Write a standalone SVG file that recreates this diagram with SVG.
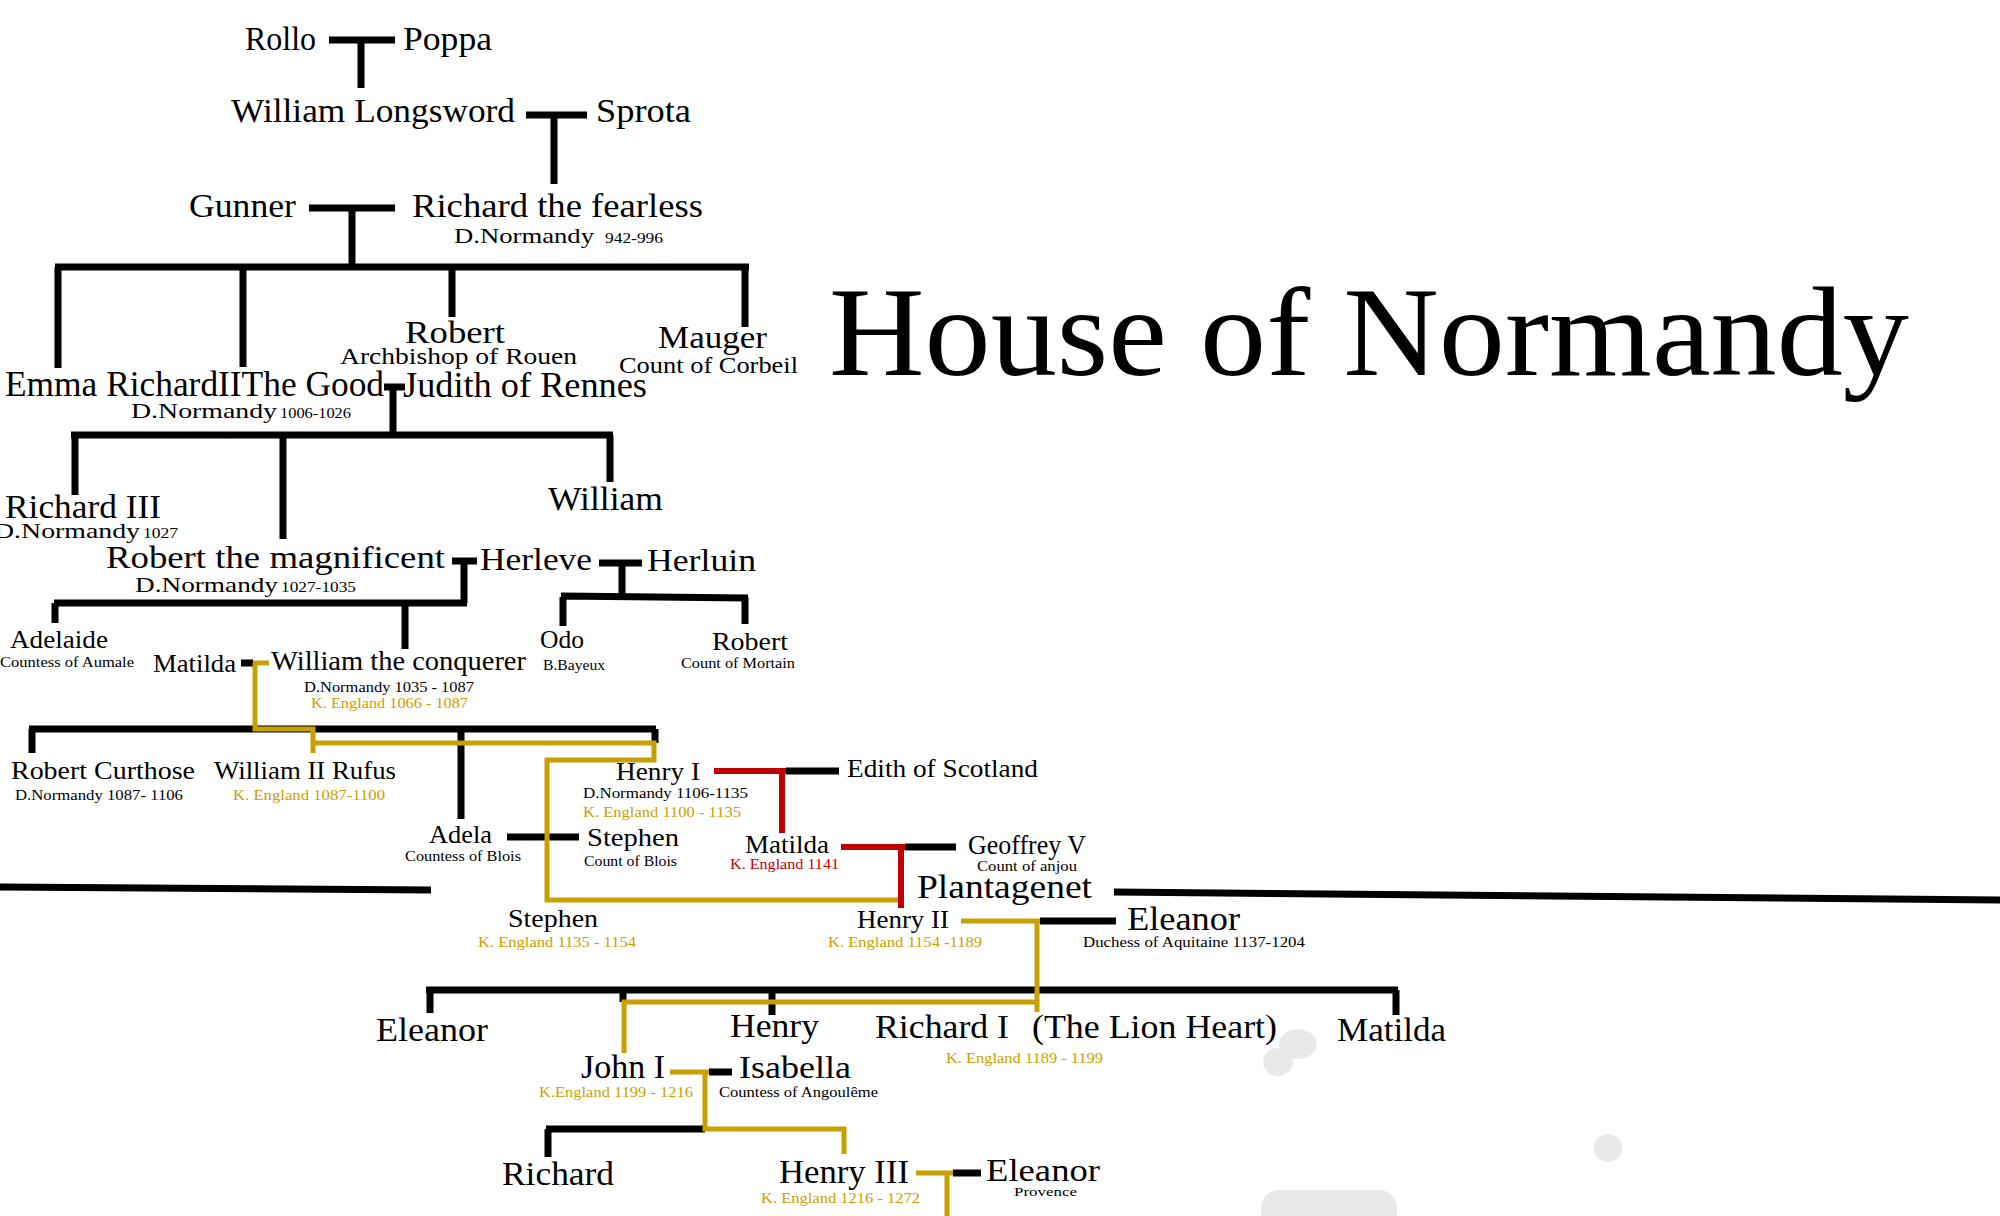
<svg xmlns="http://www.w3.org/2000/svg" width="2000" height="1216" viewBox="0 0 2000 1216">
<style>
text{font-family:"Liberation Serif","DejaVu Serif",serif;fill:#000}
.g{fill:#c8a000}
.r{fill:#c00000}
.k{stroke:#000;stroke-width:7;fill:none}
.y{stroke:#c8a000;stroke-width:5;fill:none}
.rd{stroke:#c00000;stroke-width:6;fill:none}
.blob{fill:#e9e9e9}
</style>
<rect width="2000" height="1216" fill="#fff"/>
<g id="blobs">
<ellipse class="blob" cx="1298" cy="1044" rx="19" ry="15"/>
<ellipse class="blob" cx="1278" cy="1062" rx="15" ry="14"/>
<ellipse class="blob" cx="1608" cy="1148" rx="14" ry="14"/>
<rect class="blob" x="1261" y="1190" width="136" height="40" rx="18"/>
</g>
<g id="connectors">
<path class="k" d="M329,40H395M361,40V88"/>
<path class="k" d="M526,115H587M554,115V184"/>
<path class="k" d="M309,208H395M352,208V267"/>
<path class="k" d="M55,267H749M58,267V368M243,267V367M452,267V317M745,267V327"/>
<path class="k" d="M384,387H405M393,387V435"/>
<path class="k" d="M71,435H613M75,435V495M283,435V539M610,435V482"/>
<path class="k" d="M452,561H477M464,561V603M54,603H467M55,603V623M405,603V649"/>
<path class="k" d="M599,563H642M622,563V597M561,596L748,598M563,597V626M745,597V624"/>
<path class="k" d="M241,663H253"/>
<path class="k" d="M29,729H656M32,729V753M461,729V819M655,729V743"/>
<path class="k" d="M507,837H579"/>
<path class="k" d="M786,771H839"/>
<path class="k" d="M905,847H956"/>
<path class="k" d="M1040,921H1116"/>
<path class="k" d="M426,990H1398M430,990V1013M623,990V1002M772,990V1015M1396,990V1015"/>
<path class="k" d="M709,1072H732"/>
<path class="k" d="M546,1129H705M548,1129V1157"/>
<path class="k" d="M953,1173H981"/>
<path class="k" d="M0,887L431,890"/>
<path class="k" d="M1114,892L2000,900"/>
<path class="y" d="M253,663H269M255,663V729H313V753M313,743H654V760H547V900H901"/>
<path class="y" d="M961,921H1040M1037,921V1012M1037,1002H624V1053"/>
<path class="y" d="M670,1072H709M705,1072V1129H844V1154"/>
<path class="y" d="M916,1173H953M947,1173V1216"/>
<path class="rd" d="M714,771H786M782,771V833"/>
<path class="rd" d="M841,847H905M901,847V908"/>
</g>
<g id="title"><text x="829" y="375" font-size="128" textLength="1080" lengthAdjust="spacingAndGlyphs">House of Normandy</text></g>
<g id="rollo"><text x="245" y="50" font-size="33" textLength="71" lengthAdjust="spacingAndGlyphs">Rollo</text></g>
<g id="poppa"><text x="403" y="50" font-size="33" textLength="89" lengthAdjust="spacingAndGlyphs">Poppa</text></g>
<g id="william-longsword"><text x="231" y="122" font-size="33" textLength="284" lengthAdjust="spacingAndGlyphs">William Longsword</text></g>
<g id="sprota"><text x="596" y="122" font-size="33" textLength="95" lengthAdjust="spacingAndGlyphs">Sprota</text></g>
<g id="gunner"><text x="189" y="217" font-size="33" textLength="107" lengthAdjust="spacingAndGlyphs">Gunner</text></g>
<g id="richard-fearless"><text x="412" y="217" font-size="33" textLength="291" lengthAdjust="spacingAndGlyphs">Richard the fearless</text>
<text x="454" y="243" font-size="22" textLength="140" lengthAdjust="spacingAndGlyphs">D.Normandy</text>
<text x="605" y="243" font-size="15" textLength="58" lengthAdjust="spacingAndGlyphs">942-996</text></g>
<g id="robert-archbishop"><text x="405" y="343" font-size="32" textLength="100" lengthAdjust="spacingAndGlyphs">Robert</text>
<text x="340" y="364" font-size="24" textLength="237" lengthAdjust="spacingAndGlyphs">Archbishop of Rouen</text></g>
<g id="mauger"><text x="658" y="348" font-size="32" textLength="109" lengthAdjust="spacingAndGlyphs">Mauger</text>
<text x="619" y="373" font-size="24" textLength="179" lengthAdjust="spacingAndGlyphs">Count of Corbeil</text></g>
<g id="emma-richard2"><text x="5" y="396" font-size="36" textLength="379" lengthAdjust="spacingAndGlyphs">Emma RichardIIThe Good</text>
<text x="131" y="418" font-size="22" textLength="146" lengthAdjust="spacingAndGlyphs">D.Normandy</text>
<text x="280" y="418" font-size="15" textLength="71" lengthAdjust="spacingAndGlyphs">1006-1026</text></g>
<g id="judith"><text x="403" y="397" font-size="36" textLength="244" lengthAdjust="spacingAndGlyphs">Judith of Rennes</text></g>
<g id="richard3"><text x="5" y="518" font-size="33" textLength="156" lengthAdjust="spacingAndGlyphs">Richard III</text>
<text x="-6" y="538" font-size="22" textLength="146" lengthAdjust="spacingAndGlyphs">D.Normandy</text>
<text x="143" y="538" font-size="15" textLength="35" lengthAdjust="spacingAndGlyphs">1027</text></g>
<g id="william"><text x="548" y="510" font-size="33" textLength="115" lengthAdjust="spacingAndGlyphs">William</text></g>
<g id="robert-magnificent"><text x="106" y="568" font-size="32" textLength="339" lengthAdjust="spacingAndGlyphs">Robert the magnificent</text>
<text x="135" y="592" font-size="22" textLength="143" lengthAdjust="spacingAndGlyphs">D.Normandy</text>
<text x="281" y="592" font-size="15" textLength="75" lengthAdjust="spacingAndGlyphs">1027-1035</text></g>
<g id="herleve"><text x="480" y="570" font-size="32" textLength="112" lengthAdjust="spacingAndGlyphs">Herleve</text></g>
<g id="herluin"><text x="647" y="571" font-size="32" textLength="109" lengthAdjust="spacingAndGlyphs">Herluin</text></g>
<g id="adelaide"><text x="10" y="648" font-size="25" textLength="98" lengthAdjust="spacingAndGlyphs">Adelaide</text>
<text x="0" y="667" font-size="15" textLength="134" lengthAdjust="spacingAndGlyphs">Countess of Aumale</text></g>
<g id="odo"><text x="540" y="648" font-size="25" textLength="44" lengthAdjust="spacingAndGlyphs">Odo</text>
<text x="543" y="670" font-size="15" textLength="62" lengthAdjust="spacingAndGlyphs">B.Bayeux</text></g>
<g id="robert-mortain"><text x="712" y="650" font-size="25" textLength="76" lengthAdjust="spacingAndGlyphs">Robert</text>
<text x="681" y="668" font-size="15" textLength="114" lengthAdjust="spacingAndGlyphs">Count of Mortain</text></g>
<g id="matilda-flanders"><text x="153" y="672" font-size="25" textLength="83" lengthAdjust="spacingAndGlyphs">Matilda</text></g>
<g id="william-conquerer"><text x="271" y="670" font-size="27" textLength="255" lengthAdjust="spacingAndGlyphs">William the conquerer</text>
<text x="304" y="692" font-size="15" textLength="170" lengthAdjust="spacingAndGlyphs">D.Normandy 1035 - 1087</text>
<text class="g" x="311" y="708" font-size="15" textLength="157" lengthAdjust="spacingAndGlyphs">K. England 1066 - 1087</text></g>
<g id="robert-curthose"><text x="11" y="779" font-size="26" textLength="184" lengthAdjust="spacingAndGlyphs">Robert Curthose</text>
<text x="15" y="800" font-size="15" textLength="168" lengthAdjust="spacingAndGlyphs">D.Normandy 1087- 1106</text></g>
<g id="william-rufus"><text x="214" y="779" font-size="26" textLength="182" lengthAdjust="spacingAndGlyphs">William II Rufus</text>
<text class="g" x="233" y="800" font-size="15" textLength="152" lengthAdjust="spacingAndGlyphs">K. England 1087-1100</text></g>
<g id="henry1"><text x="616" y="780" font-size="26" textLength="84" lengthAdjust="spacingAndGlyphs">Henry I</text>
<text x="583" y="798" font-size="15" textLength="165" lengthAdjust="spacingAndGlyphs">D.Normandy 1106-1135</text>
<text class="g" x="583" y="817" font-size="15" textLength="158" lengthAdjust="spacingAndGlyphs">K. England 1100 - 1135</text></g>
<g id="edith"><text x="847" y="777" font-size="26" textLength="191" lengthAdjust="spacingAndGlyphs">Edith of Scotland</text></g>
<g id="adela"><text x="429" y="843" font-size="26" textLength="63" lengthAdjust="spacingAndGlyphs">Adela</text>
<text x="405" y="861" font-size="15" textLength="116" lengthAdjust="spacingAndGlyphs">Countess of Blois</text></g>
<g id="stephen-count"><text x="587" y="846" font-size="26" textLength="92" lengthAdjust="spacingAndGlyphs">Stephen</text>
<text x="584" y="866" font-size="15" textLength="93" lengthAdjust="spacingAndGlyphs">Count of Blois</text></g>
<g id="matilda-empress"><text x="745" y="853" font-size="26" textLength="84" lengthAdjust="spacingAndGlyphs">Matilda</text>
<text class="r" x="730" y="869" font-size="15" textLength="109" lengthAdjust="spacingAndGlyphs">K. England 1141</text></g>
<g id="geoffrey"><text x="968" y="854" font-size="27" textLength="118" lengthAdjust="spacingAndGlyphs">Geoffrey V</text>
<text x="977" y="871" font-size="14" textLength="100" lengthAdjust="spacingAndGlyphs">Count of anjou</text></g>
<g id="plantagenet"><text x="917" y="898" font-size="34" textLength="175" lengthAdjust="spacingAndGlyphs">Plantagenet</text></g>
<g id="stephen-king"><text x="508" y="927" font-size="26" textLength="90" lengthAdjust="spacingAndGlyphs">Stephen</text>
<text class="g" x="478" y="947" font-size="15" textLength="158" lengthAdjust="spacingAndGlyphs">K. England 1135 - 1154</text></g>
<g id="henry2"><text x="857" y="928" font-size="26" textLength="92" lengthAdjust="spacingAndGlyphs">Henry II</text>
<text class="g" x="828" y="947" font-size="15" textLength="154" lengthAdjust="spacingAndGlyphs">K. England 1154 -1189</text></g>
<g id="eleanor-aquitaine"><text x="1127" y="930" font-size="34" textLength="113" lengthAdjust="spacingAndGlyphs">Eleanor</text>
<text x="1083" y="947" font-size="15" textLength="222" lengthAdjust="spacingAndGlyphs">Duchess of Aquitaine 1137-1204</text></g>
<g id="eleanor-daughter"><text x="376" y="1041" font-size="33" textLength="112" lengthAdjust="spacingAndGlyphs">Eleanor</text></g>
<g id="henry-young"><text x="730" y="1037" font-size="33" textLength="89" lengthAdjust="spacingAndGlyphs">Henry</text></g>
<g id="richard1"><text x="875" y="1038" font-size="33" textLength="134" lengthAdjust="spacingAndGlyphs">Richard I</text>
<text x="1032" y="1038" font-size="33" textLength="245" lengthAdjust="spacingAndGlyphs">(The Lion Heart)</text>
<text class="g" x="946" y="1063" font-size="15" textLength="157" lengthAdjust="spacingAndGlyphs">K. England 1189 - 1199</text></g>
<g id="matilda-daughter"><text x="1337" y="1041" font-size="33" textLength="109" lengthAdjust="spacingAndGlyphs">Matilda</text></g>
<g id="john1"><text x="581" y="1078" font-size="33" textLength="84" lengthAdjust="spacingAndGlyphs">John I</text>
<text class="g" x="539" y="1097" font-size="15" textLength="154" lengthAdjust="spacingAndGlyphs">K.England 1199 - 1216</text></g>
<g id="isabella"><text x="739" y="1078" font-size="31" textLength="112" lengthAdjust="spacingAndGlyphs">Isabella</text>
<text x="719" y="1097" font-size="15" textLength="159" lengthAdjust="spacingAndGlyphs">Countess of Angoulême</text></g>
<g id="richard-cornwall"><text x="502" y="1185" font-size="33" textLength="112" lengthAdjust="spacingAndGlyphs">Richard</text></g>
<g id="henry3"><text x="779" y="1183" font-size="33" textLength="130" lengthAdjust="spacingAndGlyphs">Henry III</text>
<text class="g" x="761" y="1203" font-size="15" textLength="159" lengthAdjust="spacingAndGlyphs">K. England 1216 - 1272</text></g>
<g id="eleanor-provence"><text x="986" y="1181" font-size="32" textLength="114" lengthAdjust="spacingAndGlyphs">Eleanor</text>
<text x="1014" y="1196" font-size="13" textLength="63" lengthAdjust="spacingAndGlyphs">Provence</text></g>
</svg>
